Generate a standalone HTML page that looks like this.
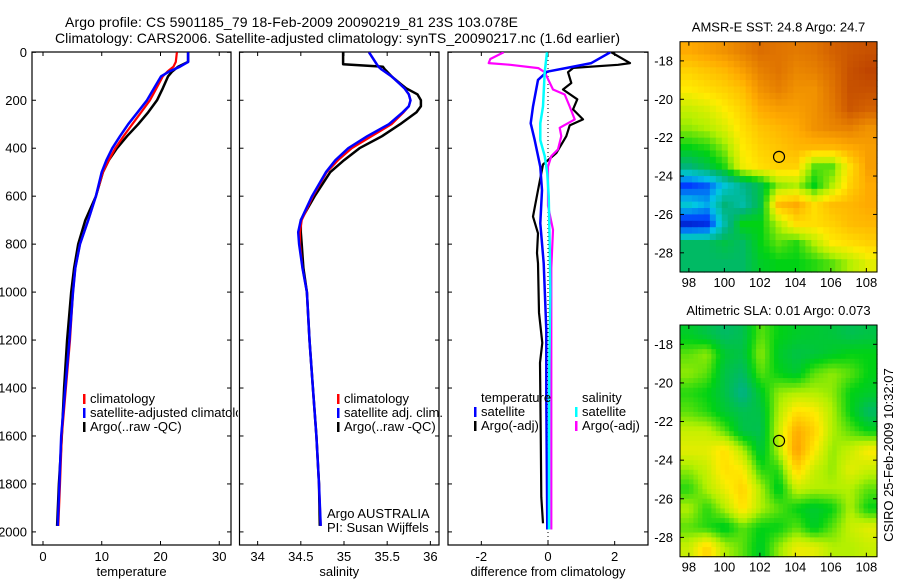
<!DOCTYPE html>
<html><head><meta charset="utf-8">
<style>
html,body{margin:0;padding:0;background:#fff;}
svg{display:block;font-family:"Liberation Sans",sans-serif;}
text{fill:#000;}
</style></head>
<body>
<svg id="fig" width="900" height="580" viewBox="0 0 900 580" xmlns="http://www.w3.org/2000/svg">
<text x="65" y="27" font-size="14" textLength="453">Argo profile: CS 5901185_79 18-Feb-2009 20090219_81 23S 103.078E</text>
<text x="55" y="43" font-size="14" textLength="565">Climatology: CARS2006. Satellite-adjusted climatology: synTS_20090217.nc (1.6d earlier)</text>
<defs>
<clipPath id="c1"><rect x="32" y="52" width="199" height="493"/></clipPath>
<clipPath id="c1t"><rect x="32" y="52" width="206" height="493"/></clipPath>
<clipPath id="c2"><rect x="239.5" y="52" width="199.5" height="493"/></clipPath>
<clipPath id="c3"><rect x="448" y="52" width="200" height="493"/></clipPath>
</defs>
<g id="panels"></g>
<g id="maps"></g>
<text transform="translate(893,455) rotate(-90)" text-anchor="middle" font-size="13">CSIRO 25-Feb-2009 10:32:07</text>
</svg>
<script>
// ---- profile data ----
const tDepth = [0,40,60,80,100,150,200,250,300,350,400,450,500,600,700,800,900,1000,1200,1400,1600,1800,1975];
const tClim  = [22.8,22.6,22.2,21.2,20.4,19.3,18.2,16.7,15.2,13.7,12.3,11.2,10.2,9.0,7.7,6.3,5.5,5.1,4.6,3.9,3.2,2.9,2.6];
const tSat   = [24.7,24.7,23.3,21.5,20.1,18.9,17.7,16.1,14.5,13.1,11.8,10.8,10.0,9.0,7.7,6.3,5.5,5.1,4.5,3.8,3.1,2.8,2.5];
const tArgo  = [24.7,24.7,23.0,22.0,21.3,20.4,19.4,17.9,16.2,14.3,12.6,11.2,10.2,9.0,7.2,6.0,5.3,4.8,4.1,3.6,3.2,2.7,2.4];

const sDepth = [0,50,60,70,100,130,150,175,200,225,250,300,350,400,450,500,600,700,750,800,900,1000,1200,1400,1600,1800,1975];
const sClim  = [35.29,35.38,35.40,35.43,35.55,35.64,35.70,35.75,35.77,35.75,35.69,35.55,35.32,35.09,34.93,34.80,34.64,34.51,34.49,34.49,34.52,34.57,34.60,34.64,34.68,34.71,34.73];
const sSat   = [35.29,35.38,35.40,35.43,35.55,35.64,35.70,35.75,35.77,35.75,35.68,35.52,35.27,35.05,34.90,34.79,34.63,34.50,34.47,34.48,34.52,34.57,34.60,34.64,34.68,34.71,34.73];
const sArgo  = [34.99,34.99,35.45,35.47,35.55,35.65,35.72,35.85,35.89,35.89,35.84,35.65,35.44,35.18,35.00,34.84,34.66,34.50,34.50,34.51,34.53,34.57,34.60,34.64,34.68,34.71,34.72];

const dtSatDepth = [0,45,65,81,115,226,296,366,477,575,713,880,1158,1437,1990];
const dtSat      = [1.87,1.3,0.57,-0.03,-0.3,-0.45,-0.52,-0.4,-0.23,-0.18,-0.23,-0.13,-0.05,-0.05,-0.02];
const dtArgoDepth = [0,45,52,65,83,128,155,196,238,280,305,350,420,468,575,685,755,837,880,1086,1212,1295,1576,1855,1964];
const dtArgo      = [1.9,2.46,2.1,0.76,0.6,0.7,0.45,0.88,0.75,1.05,0.65,0.55,0.25,-0.15,-0.3,-0.45,-0.3,-0.33,-0.3,-0.27,-0.17,-0.24,-0.22,-0.2,-0.15];
const dsSatDepth = [0,83,226,296,366,433,505,600,800,1000,1300,1600,1990];
const dsSat      = [-0.03,-0.1,-0.15,-0.23,-0.23,-0.1,-0.02,0.02,0.05,0.07,0.04,0.03,0.03];
const dsArgoDepth = [0,28,45,52,66,83,155,176,226,280,315,350,405,433,477,640,740,900,1200,1500,1800,1990];
const dsArgo      = [-1.33,-1.73,-1.78,-1.13,-0.29,-0.1,0.15,0.5,0.65,0.8,0.35,0.4,0.3,0.1,0.0,0.0,0.15,0.1,0.1,0.1,0.1,0.1];

const depthTicks = [0,200,400,600,800,1000,1200,1400,1600,1800,2000];
const tTicks = [0,10,20,30];
const sTicks = [34,34.5,35,35.5,36];
const dTicks = [-2,0,2];

// ---- map data (1-degree cells, rows lat 17..29 S, cols lon 97.5..108.5), values normalized 0..1 ----
const sstGrid = [
[0.78,0.80,0.82,0.85,0.88,0.87,0.86,0.87,0.90,0.92,0.93],
[0.72,0.74,0.76,0.80,0.85,0.87,0.84,0.85,0.88,0.93,0.95],
[0.68,0.70,0.72,0.75,0.82,0.85,0.82,0.82,0.87,0.93,0.93],
[0.62,0.64,0.68,0.72,0.78,0.80,0.80,0.82,0.86,0.92,0.90],
[0.58,0.60,0.64,0.70,0.74,0.76,0.78,0.82,0.84,0.85,0.82],
[0.50,0.52,0.58,0.68,0.72,0.74,0.76,0.76,0.76,0.78,0.80],
[0.40,0.45,0.52,0.66,0.70,0.72,0.72,0.55,0.55,0.70,0.80],
[0.15,0.18,0.30,0.38,0.45,0.58,0.60,0.50,0.60,0.72,0.78],
[0.30,0.25,0.40,0.35,0.45,0.75,0.78,0.70,0.75,0.76,0.78],
[0.10,0.12,0.35,0.50,0.50,0.60,0.70,0.70,0.72,0.75,0.76],
[0.42,0.42,0.45,0.42,0.50,0.55,0.52,0.60,0.68,0.70,0.72],
[0.42,0.42,0.42,0.42,0.48,0.50,0.50,0.52,0.55,0.60,0.65]];
const slaGrid = [
[0.48,0.45,0.42,0.44,0.55,0.50,0.48,0.47,0.46,0.44,0.45],
[0.55,0.58,0.47,0.45,0.58,0.48,0.45,0.46,0.48,0.50,0.50],
[0.58,0.55,0.45,0.42,0.55,0.50,0.47,0.55,0.58,0.55,0.50],
[0.52,0.50,0.45,0.38,0.48,0.58,0.60,0.60,0.58,0.50,0.48],
[0.55,0.52,0.47,0.44,0.45,0.60,0.70,0.68,0.60,0.50,0.42],
[0.62,0.62,0.55,0.45,0.44,0.62,0.78,0.72,0.60,0.55,0.50],
[0.65,0.65,0.70,0.60,0.46,0.60,0.80,0.68,0.58,0.62,0.68],
[0.58,0.62,0.70,0.68,0.52,0.52,0.72,0.62,0.58,0.65,0.62],
[0.52,0.60,0.66,0.72,0.60,0.48,0.62,0.60,0.60,0.60,0.55],
[0.60,0.52,0.60,0.70,0.60,0.55,0.50,0.47,0.50,0.60,0.50],
[0.55,0.52,0.48,0.55,0.50,0.50,0.55,0.48,0.55,0.62,0.65],
[0.62,0.72,0.60,0.55,0.48,0.58,0.66,0.65,0.60,0.60,0.62]];
const lonTicks = [98,100,102,104,106,108];
const latTicks = [18,20,22,24,26,28];
const argoLon = [103.08];
const argoLat = [23.0];

const NS = "http://www.w3.org/2000/svg";
function mk(tag, attrs, parent){ const e=document.createElementNS(NS,tag); for(const k in attrs) e.setAttribute(k,attrs[k]); parent.appendChild(e); return e; }
const panels = document.getElementById('panels');
const maps = document.getElementById('maps');

const Y0=52, Y1=545;
function yD(d){ return 52.3 + d*0.2398; }

function panel(name, x0, x1, xmin, xmax, xticks, xlabel, clipId){
  const sx = v => x0 + (v-xmin)/(xmax-xmin)*(x1-x0);
  const g = mk('g',{},panels);
  
  
  const fr = mk('rect',{x:x0,y:Y0,width:x1-x0,height:Y1-Y0,fill:'#fff',stroke:'#000','stroke-width':1.2},g);
  
  
  for(const t of depthTicks){
    const y=yD(t);
    mk('line',{x1:x0,y1:y,x2:x0+4,y2:y,stroke:'#000'},g);
    mk('line',{x1:x1,y1:y,x2:x1-4,y2:y,stroke:'#000'},g);
  }
  for(const t of xticks){
    const x=sx(t);
    mk('line',{x1:x,y1:Y0,x2:x,y2:Y0+4,stroke:'#000'},g);
    mk('line',{x1:x,y1:Y1,x2:x,y2:Y1-4,stroke:'#000'},g);
    const tl = mk('text',{x:x,y:561,'font-size':13,'text-anchor':'middle'},g);
    tl.textContent = String(t);
    
    
  }
  const xl = mk('text',{x:(x0+x1)/2,y:576,'font-size':13,'text-anchor':'middle'},g);
  xl.textContent = xlabel;
  
  
  const lines = mk('g',{'clip-path':'url(#'+clipId+')'},g);
  return {sx, g, lines};
}
function series(p, depths, vals, color, w, name){
  let d='';
  for(let i=0;i<depths.length;i++){ d += (i?'L':'M') + p.sx(vals[i]).toFixed(1)+','+yD(depths[i]).toFixed(1); }
  const e = mk('path',{d:d,fill:'none',stroke:color,'stroke-width':w,'stroke-linejoin':'round'},p.lines);
  
  
}
function legend(parent, x, y, color, label, name){
  if(color) mk('rect',{x:x-7,y:y-9,width:2.5,height:10,fill:color},parent);
  const t = mk('text',{x:x,y:y,'font-size':13},parent);
  t.textContent = label;
  
  
}

for(const t of depthTicks){
  const tl = mk('text',{x:27,y:yD(t)+4.5,'font-size':13,'text-anchor':'end'},panels);
  tl.textContent = String(t);
  
  
}

const p1 = panel('temperature-panel',32,231,-1.87,32.0,tTicks,'temperature','c1');
series(p1,tDepth,tArgo,'#000',2.5,'temp-argo-line');
series(p1,tDepth,tClim,'#f00',2.2,'temp-climatology-line');
series(p1,tDepth,tSat,'#00f',2.5,'temp-satellite-line');
const lg1 = mk('g',{'clip-path':'url(#c1t)'},panels);


legend(lg1,90,403,'#f00','climatology','legend-climatology');
legend(lg1,90,417,'#00f','satellite-adjusted climatology','legend-satellite-adjusted');
legend(lg1,90,431,'#000','Argo(..raw -QC)','legend-argo');

const p2 = panel('salinity-panel',239.5,439,33.79,36.1,sTicks,'salinity','c2');
series(p2,sDepth,sArgo,'#000',2.5,'sal-argo-line');
series(p2,sDepth,sClim,'#f00',2.2,'sal-climatology-line');
series(p2,sDepth,sSat,'#00f',2.5,'sal-satellite-line');
legend(p2.g,344,403,'#f00','climatology','legend-climatology');
legend(p2.g,344,417,'#00f','satellite adj. clim.','legend-satellite');
legend(p2.g,344,431,'#000','Argo(..raw -QC)','legend-argo');
legend(p2.g,327,518,null,'Argo AUSTRALIA','argo-australia-note');
legend(p2.g,327,532,null,'PI: Susan Wijffels','pi-note');

const p3 = panel('difference-panel',448,648,-3.0,3.0,dTicks,'difference from climatology','c3');
const zl = mk('line',{x1:p3.sx(0),y1:Y0,x2:p3.sx(0),y2:Y1,stroke:'#000','stroke-dasharray':'1,3'},p3.lines);


series(p3,dtArgoDepth,dtArgo,'#000',2.2,'temp-diff-argo-line');
series(p3,dsArgoDepth,dsArgo,'#f0f',2.2,'sal-diff-argo-line');
series(p3,dtSatDepth,dtSat,'#00f',2.5,'temp-diff-satellite-line');
series(p3,dsSatDepth,dsSat,'#0ff',2.5,'sal-diff-satellite-line');
legend(p3.g,481,402,null,'temperature','legend-temperature-header');
legend(p3.g,481,416,'#00f','satellite','legend-temp-satellite');
legend(p3.g,481,430,'#000','Argo(-adj)','legend-temp-argo');
legend(p3.g,582,402,null,'salinity','legend-salinity-header');
legend(p3.g,582,416,'#0ff','satellite','legend-sal-satellite');
legend(p3.g,582,430,'#f0f','Argo(-adj)','legend-sal-argo');

// ---- maps ----
const cstops = [[0,[0,0,130]],[0.15,[0,60,255]],[0.28,[0,200,230]],[0.4,[0,180,120]],[0.5,[0,210,20]],[0.6,[180,240,0]],[0.68,[255,235,0]],[0.78,[255,170,0]],[0.88,[220,110,0]],[1,[170,40,0]]];
function cmap(v){
  v=Math.max(0,Math.min(1,v));
  for(let i=1;i<cstops.length;i++){
    if(v<=cstops[i][0]){
      const a=cstops[i-1],b=cstops[i],f=(v-a[0])/(b[0]-a[0]);
      const c=a[1].map((x,j)=>Math.round(x+(b[1][j]-x)*f));
      return 'rgb('+c.join(',')+')';
    }
  }
  return 'rgb(170,40,0)';
}
function sample(grid, fr, fc){
  const nr=grid.length, nc=grid[0].length;
  let r=Math.max(0,Math.min(nr-1,fr-0.5)), c=Math.max(0,Math.min(nc-1,fc-0.5));
  const r0=Math.floor(r), c0=Math.floor(c), r1=Math.min(nr-1,r0+1), c1=Math.min(nc-1,c0+1);
  const a=r-r0, b=c-c0;
  return grid[r0][c0]*(1-a)*(1-b)+grid[r0][c1]*(1-a)*b+grid[r1][c0]*a*(1-b)+grid[r1][c1]*a*b;
}
function map(name, title, grid, top, bottom, sub){
  const L=680,R=877;
  const lonMin=97.5, lonMax=108.6, latMin=17.0, latMax=29.0;
  const sx = v => L + (v-lonMin)/(lonMax-lonMin)*(R-L);
  const sy = v => top + (v-latMin)/(latMax-latMin)*(bottom-top);
  const g = mk('g',{},maps);
  
  
  const nr=grid.length, nc=grid[0].length;
  const NR=nr*sub, NC=nc*sub;
  for(let r=0;r<NR;r++) for(let c=0;c<NC;c++){
    const lo0 = lonMin + c*(lonMax-lonMin)/NC, lo1 = lonMin + (c+1)*(lonMax-lonMin)/NC;
    const la0 = latMin + r*(latMax-latMin)/NR, la1 = latMin + (r+1)*(latMax-latMin)/NR;
    const v = sample(grid,(r+0.5)/sub,(c+0.5)/sub);
    const cell = mk('rect',{x:sx(lo0).toFixed(2),y:sy(la0).toFixed(2),width:(sx(lo1)-sx(lo0)+0.6).toFixed(2),height:(sy(la1)-sy(la0)+0.6).toFixed(2),fill:cmap(v)},g);
    
    
  }
  mk('rect',{x:L,y:top,width:R-L,height:bottom-top,fill:'none',stroke:'#000','stroke-width':1},g);
  for(const t of lonTicks){
    const x=sx(t);
    mk('line',{x1:x,y1:top,x2:x,y2:top+4,stroke:'#000'},g);
    mk('line',{x1:x,y1:bottom,x2:x,y2:bottom-4,stroke:'#000'},g);
    const tl = mk('text',{x:x,y:bottom+15,'font-size':13,'text-anchor':'middle'},g);
    tl.textContent = String(t);
    
    
  }
  for(const t of latTicks){
    const y=sy(t);
    mk('line',{x1:L,y1:y,x2:L+4,y2:y,stroke:'#000'},g);
    mk('line',{x1:R,y1:y,x2:R-4,y2:y,stroke:'#000'},g);
    const tl = mk('text',{x:673,y:y+4.5,'font-size':13,'text-anchor':'end'},g);
    tl.textContent = '-'+t;
    
    
  }
  const tt = mk('text',{x:(L+R)/2,y:top-10,'font-size':13,'text-anchor':'middle'},g);
  tt.textContent = title;
  
  
  for(let i=0;i<argoLon.length;i++){
    const ci = mk('circle',{cx:sx(argoLon[i]),cy:sy(argoLat[i]),r:5.5,fill:'none',stroke:'#000','stroke-width':1.2},g);
    
    
  }
}
map('sst-map','AMSR-E SST: 24.8 Argo: 24.7',sstGrid,41.7,272,3);
map('sla-map','Altimetric SLA: 0.01 Argo: 0.073',slaGrid,325,556.7,4);
</script>
</body></html>
